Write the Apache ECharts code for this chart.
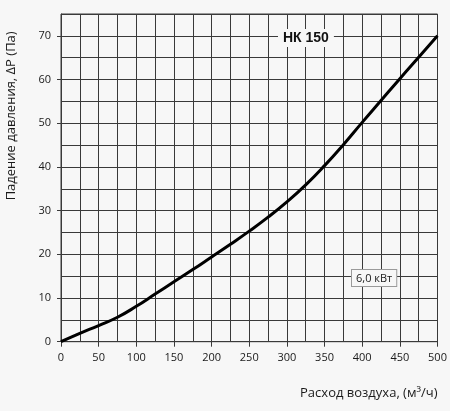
<!DOCTYPE html>
<html>
<head>
<meta charset="utf-8">
<script src="https://cdn.jsdelivr.net/npm/echarts@6/dist/echarts.min.js"></script>
<style>
html,body{margin:0;padding:0;background:#f7f7f7;}
#c{width:450px;height:411px;}
</style>
</head>
<body>
<div id="c"></div>
<script>
var airflow = [0, 25, 50, 75, 100, 125, 150, 175, 200, 225, 250, 275, 300, 325, 350, 375, 400, 425, 450, 475, 500];
var pressure = [0, 1.9, 3.7, 5.6, 8.1, 10.9, 13.7, 16.5, 19.4, 22.3, 25.3, 28.5, 32.0, 35.9, 40.3, 45.1, 50.2, 55.2, 60.2, 65.1, 70];
var xTickLabels = [0, 50, 100, 150, 200, 250, 300, 350, 400, 450, 500];
var yTickLabels = [0, 10, 20, 30, 40, 50, 60, 70];
var modelLabel = 'НК 150';
var powerLabel = '6,0 кВт';
var xTitle = 'Расход воздуха, (м³/ч)';
var yTitle = 'Падение давления, ΔP (Па)';

var chart = echarts.init(document.getElementById('c'), null, {renderer: 'canvas'});
var gridColor = '#3a3a3a';
var txt = {fontFamily: 'Open Sans', fontSize: 11, color: '#1a1a1a'};
chart.setOption({
  backgroundColor: '#f7f7f7',
  animation: false,
  grid: {left: 61, right: 12.5, top: 14, bottom: 69.3, show: true, borderColor: gridColor, borderWidth: 1, outerBoundsMode: 'none', containLabel: false},
  xAxis: [{
    type: 'value', min: 0, max: 500, interval: 50,
    axisLine: {show: true, lineStyle: {color: gridColor, width: 1}},
    axisTick: {show: true, length: 5, customValues: xTickLabels, lineStyle: {color: gridColor}},
    axisLabel: Object.assign({customValues: xTickLabels, margin: 11}, txt),
    splitLine: {show: false},
    name: xTitle, nameLocation: 'end', nameGap: 0,
    nameTextStyle: {fontFamily: 'Open Sans', fontSize: 13, color: '#1a1a1a', align: 'right', verticalAlign: 'top', padding: [45, 0, 0, 0]}
  }, {
    type: 'value', min: 0, max: 500, interval: 25, position: 'bottom',
    axisLine: {show: false}, axisTick: {show: false}, axisLabel: {show: false},
    splitLine: {show: true, lineStyle: {color: gridColor, width: 1}}
  }],
  yAxis: [{
    type: 'value', min: 0, max: 75, interval: 10,
    axisLine: {show: true, lineStyle: {color: gridColor, width: 1}},
    axisTick: {show: true, length: 4, customValues: yTickLabels, lineStyle: {color: gridColor}},
    axisLabel: Object.assign({customValues: yTickLabels, margin: 10}, txt),
    splitLine: {show: false},
    name: yTitle, nameLocation: 'middle', nameGap: 43,
    nameTextStyle: {fontFamily: 'Open Sans', fontSize: 13, color: '#1a1a1a', padding: [0, 0, 0, 124]}
  }, {
    type: 'value', min: 0, max: 75, interval: 5, position: 'left',
    axisLine: {show: false}, axisTick: {show: false}, axisLabel: {show: false},
    splitLine: {show: true, lineStyle: {color: gridColor, width: 1}}
  }],
  series: [{
    type: 'line',
    xAxisIndex: 0, yAxisIndex: 0,
    data: airflow.map(function (x, i) { return [x, pressure[i]]; }),
    smooth: 0.5,
    showSymbol: false,
    lineStyle: {color: '#000', width: 3},
    z: 5
  }],
  graphic: [
    {type: 'text', left: 278, top: 29, z: 10,
     style: {text: modelLabel, fontFamily: 'Liberation Sans', fontWeight: 'bold', fontSize: 14, fill: '#111',
             backgroundColor: '#f7f7f7', padding: [2, 5, 2, 5]}},
    {type: 'text', left: 351, top: 269, z: 10,
     style: {text: powerLabel, fontFamily: 'Open Sans', fontSize: 11, fill: '#1a1a1a',
             backgroundColor: '#f7f7f7', borderColor: '#9a9a9a', borderWidth: 1, padding: [3, 4, 2, 4]}}
  ]
});
</script>
</body>
</html>
